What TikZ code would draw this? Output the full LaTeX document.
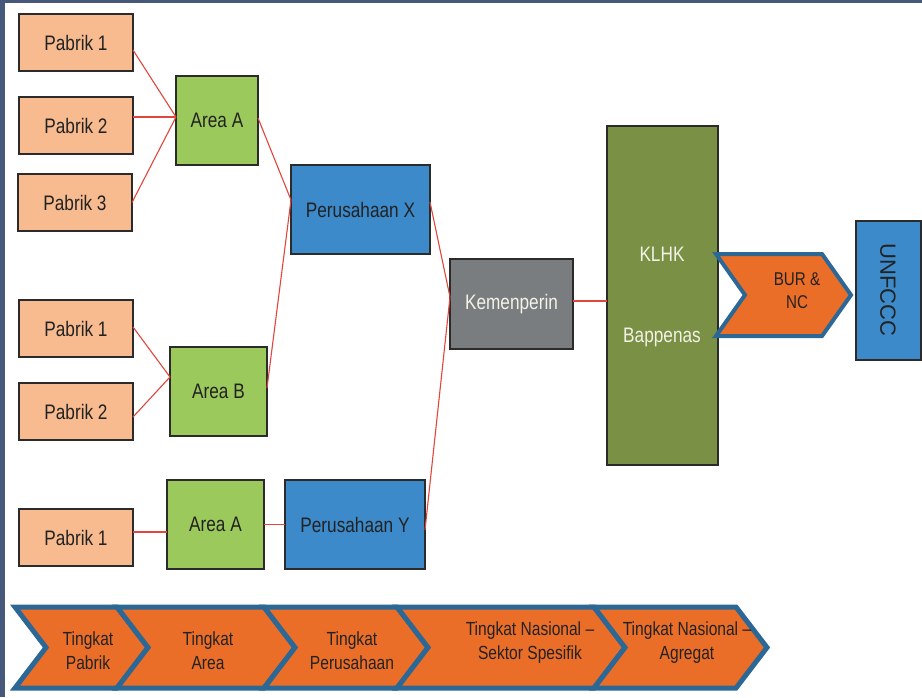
\documentclass[tikz,border=0pt]{standalone}
\usepackage{fontspec}
\setmainfont{Liberation Sans}[FakeStretch=0.82]
\newfontfamily\widefont{Liberation Sans}
\usetikzlibrary{calc}
\definecolor{peach}{HTML}{F8BB90}
\definecolor{areagreen}{HTML}{9CC95B}
\definecolor{corpblue}{HTML}{3D8ACB}
\definecolor{kemgray}{HTML}{7A7D80}
\definecolor{olive}{HTML}{7A9045}
\definecolor{boxline}{HTML}{2B2B2B}
\definecolor{linkred}{HTML}{E0463C}
\definecolor{chevfill}{HTML}{EB6E28}
\definecolor{chevline}{HTML}{2B6896}
\definecolor{framecol}{HTML}{46597B}
\definecolor{darktext}{HTML}{222222}
\definecolor{lighttext}{HTML}{F2F2E6}
\begin{document}
\begin{tikzpicture}[x=1pt,y=-1pt,
  box/.style={draw=boxline, line width=1.3pt, inner sep=0pt, outer sep=0pt,
    text=darktext, font=\fontsize{21}{25}\selectfont},
  pabrik/.style={box, fill=peach, minimum width=114pt, minimum height=57pt},
  areabox/.style={box, fill=areagreen, minimum height=89pt},
  corpbox/.style={box, fill=corpblue, minimum height=89pt},
  link/.style={draw=linkred, line width=1.1pt},
  chev/.style={fill=chevfill, draw=chevline, line width=5pt, line join=miter},
  chevtext/.style={text=darktext, align=center, font=\fontsize{19}{24}\selectfont}]
\useasboundingbox (0,0) rectangle (922,697);
\fill[white] (0,0) rectangle (922,697);
\fill[framecol] (0,0) rectangle (922,3);
\fill[framecol] (0,0) rectangle (5,697);

% group A
\node[pabrik] (p1) at (76,42.5) {Pabrik 1};
\node[pabrik] (p2) at (76,125.5) {Pabrik 2};
\node[pabrik] (p3) at (75,202.5) {Pabrik 3};
\node[areabox, minimum width=82pt] (aA) at (217,120.5) {Area A};
% group B
\node[pabrik] (q1) at (76,328.5) {Pabrik 1};
\node[pabrik] (q2) at (76,411.5) {Pabrik 2};
\node[areabox, minimum width=97pt] (aB) at (218.5,391.5) {Area B};
% group C
\node[pabrik] (r1) at (76,537.5) {Pabrik 1};
\node[areabox, minimum width=97pt] (aC) at (215.5,524.5) {Area A};
% companies
\node[corpbox, minimum width=139pt] (px) at (360.5,209.5) {Perusahaan X};
\node[corpbox, minimum width=140pt] (py) at (355,524.5) {Perusahaan Y};
% ministry
\node[box, fill=kemgray, text=lighttext, minimum width=123pt, minimum height=90pt] (km) at (511.5,304) {Kemenperin};
% national
\node[box, fill=olive, minimum width=111pt, minimum height=339pt] (kl) at (662.5,295.5) {};
\node[text=lighttext, font=\fontsize{21}{25}\selectfont] (klhk) at (662,254) {KLHK};
\node[text=lighttext, font=\fontsize{21}{25}\selectfont] (bap) at (662,337) {Bappenas};
% UNFCCC
\node[box, fill=corpblue, minimum width=65pt, minimum height=139pt] (un) at (888.5,290.5) {};
\node[rotate=-90, text=darktext, font=\widefont\fontsize{22}{26}\selectfont] (unt) at (888,290) {UNFCCC};

% BUR & NC chevron
\draw[chev, line width=4pt] (716,254) -- (822,254) -- (851,295) -- (822,336) -- (716,336) -- (745,295) -- cycle;
\node[chevtext, font=\fontsize{18.5}{23}\selectfont] (bur) at (797,291) {BUR \&\\NC};

% connectors
\coordinate (hA) at ([yshift=3.5pt]aA.west);
\draw[link] ([yshift=-7.5pt]p1.east) -- (hA);
\draw[link] ([yshift=8.5pt]p2.east) -- (hA);
\draw[link] (p3.east) -- (hA);
\coordinate (hB) at ([yshift=14.5pt]aB.west);
\draw[link] ([yshift=1.5pt]q1.east) -- (hB);
\draw[link] ([yshift=-5.5pt]q2.east) -- (hB);
\coordinate (hX) at ([yshift=9.5pt]px.west);
\draw[link] ([yshift=2.5pt]aA.east) -- (hX);
\draw[link] ([yshift=3.5pt]aB.east) -- (hX);
\coordinate (hK) at ([yshift=7pt]km.west);
\draw[link] ([yshift=7.5pt]px.east) -- (hK);
\draw[link] ([yshift=-5.5pt]py.east) -- (hK);
\draw[link] ([yshift=3pt]km.east) -- ([yshift=3pt]km.east -| kl.west);
\draw[link] ([yshift=5.5pt]r1.east) -- ([yshift=5.5pt]r1.east -| aC.west);
\draw[link] (aC.east) -- (py.west);

% level chevrons
\draw[chev] (15,607) -- (117,607) -- (148,647.5) -- (117,688) -- (15,688) -- (46,647.5) -- cycle;
\draw[chev] (117,607) -- (264,607) -- (295,647.5) -- (264,688) -- (117,688) -- (148,647.5) -- cycle;
\draw[chev] (264,607) -- (397,607) -- (428,647.5) -- (397,688) -- (264,688) -- (295,647.5) -- cycle;
\draw[chev] (397,607) -- (594,607) -- (625,647.5) -- (594,688) -- (397,688) -- (428,647.5) -- cycle;
\draw[chev] (594,607) -- (736,607) -- (767,647.5) -- (736,688) -- (594,688) -- (625,647.5) -- cycle;
\node[chevtext] (t1) at (88,651) {Tingkat\\Pabrik};
\node[chevtext] (t2) at (208,651) {Tingkat\\Area};
\node[chevtext] (t3) at (352,651) {Tingkat\\Perusahaan};
\node[chevtext] (t4) at (530,643) {Tingkat Nasional –\\Sektor Spesifik};
\node[chevtext] (t5) at (687,643) {Tingkat Nasional –\\Agregat};
\end{tikzpicture}
\end{document}
